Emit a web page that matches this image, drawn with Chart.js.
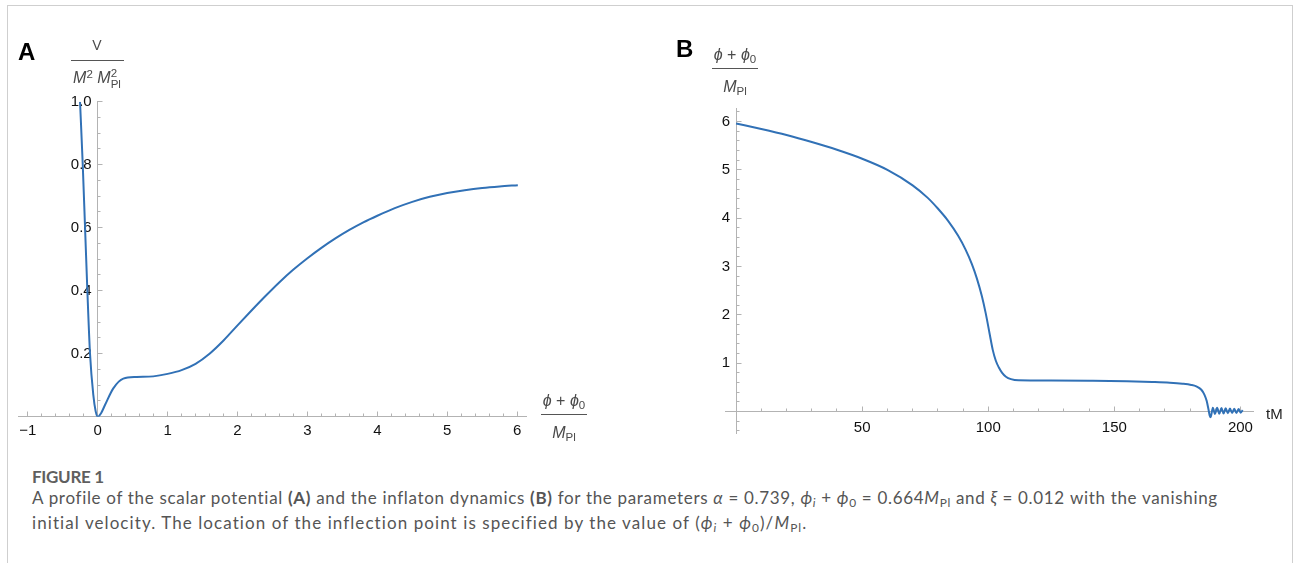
<!DOCTYPE html>
<html>
<head>
<meta charset="utf-8">
<script src="https://cdn.jsdelivr.net/npm/chart.js@4.4.0/dist/chart.umd.min.js"></script>
<style>
  body { margin: 0; background: #fff; width: 1293px; height: 563px; overflow: hidden; position: relative;
         font-family: "Liberation Sans", Arial, sans-serif; }
  .frame { position: absolute; left: 7px; top: 5px; width: 1286px; height: 700px;
           border: 1px solid #cfcfcf; box-sizing: border-box; }
  canvas { position: absolute; top: 0; }
  #potential { left: 0; }
  #dynamics { left: 640px; }
  .t { position: absolute; white-space: nowrap; color: #4a4a4a; font-size: 16px; line-height: 18px; text-align: center; }
  .bar { position: absolute; height: 1px; background: #555; }
  .panel { position: absolute; font-weight: bold; font-size: 24px; line-height: 24px; color: #000; }
  .t sub { font-size: 0.72em; vertical-align: -0.3em; line-height: 0; }
  .t sup { font-size: 0.72em; vertical-align: 0.45em; line-height: 0; }
  .stack { display: inline-block; vertical-align: -0.45em; font-size: 0.72em; line-height: 0.95; text-align: left; }
  .stack span { display: block; }
  .cap { position: absolute; left: 32px; white-space: nowrap; font-family: Lato, "Open Sans", sans-serif; color: #555; }
  .cap sub { font-size: 0.7em; vertical-align: -0.25em; line-height: 0; }
  #fig { top: 467px; font-size: 17px; line-height: 20px; font-weight: bold; color: #5f5f5f; letter-spacing: -0.3px; }
  #line1 { top: 488px; font-size: 17px; line-height: 20px; }
  #line2 { top: 513px; font-size: 17px; line-height: 20px; }
</style>
</head>
<body>
<div class="frame"></div>
<canvas id="potential" width="640" height="460"></canvas>
<canvas id="dynamics" width="653" height="460"></canvas>

<div class="panel" style="left:18px; top:40px;">A</div>
<div class="panel" style="left:676px; top:37px;">B</div>

<!-- axis titles of panel A -->
<div class="t" style="left:67px; width:60px; top:36px; font-size:14px;">V</div>
<div class="bar" style="left:71px; width:53px; top:60px;"></div>
<div class="t" style="left:57px; width:80px; top:68px;"><i>M</i><sup>2</sup> <i>M</i><span class="stack"><span>2</span><span>Pl</span></span></div>
<div class="t" style="left:534px; width:60px; top:392px;"><i>ϕ</i> + <i>ϕ</i><sub>0</sub></div>
<div class="bar" style="left:541px; width:46px; top:414px;"></div>
<div class="t" style="left:534px; width:60px; top:424px;"><i>M</i><sub>Pl</sub></div>

<!-- axis titles of panel B -->
<div class="t" style="left:705px; width:60px; top:46px;"><i>ϕ</i> + <i>ϕ</i><sub>0</sub></div>
<div class="bar" style="left:712px; width:46px; top:68px;"></div>
<div class="t" style="left:705px; width:60px; top:78px;"><i>M</i><sub>Pl</sub></div>
<div class="t" style="left:1266px; top:405px; text-align:left; color:#222; font-size:15px;">tM</div>

<div class="cap" id="fig">FIGURE 1</div>
<div class="cap" id="line1" data-w="1186">A profile of the scalar potential <b>(A)</b> and the inflaton dynamics <b>(B)</b> for the parameters <i>α</i> = 0.739, <i>ϕ<sub>i</sub></i> + <i>ϕ</i><sub>0</sub> = 0.664<i>M</i><sub>Pl</sub> and <i>ξ</i> = 0.012 with the vanishing</div>
<div class="cap" id="line2" data-w="776">initial velocity. The location of the inflection point is specified by the value of (<i>ϕ<sub>i</sub></i> + <i>ϕ</i><sub>0</sub>)/<i>M</i><sub>Pl</sub>.</div>

<script>
  // panel A: scalar potential V/(M^2 Mpl^2) against (phi+phi0)/Mpl
  const potentialX = [-0.253, -0.214, -0.181, -0.148, -0.11, -0.063, -0.03, 0, 0.05, 0.104, 0.223, 0.366,
                      0.557, 0.795, 1.0, 1.2, 1.4, 1.6, 1.8, 2.0, 2.2, 2.4, 2.6, 2.8, 3.0, 3.2, 3.4, 3.6, 3.8, 4.0,
                      4.25, 4.5, 4.75, 5.0, 5.25, 5.5, 5.75, 6.01];
  const potentialV = [1.0, 0.8, 0.6, 0.4, 0.2, 0.069, 0.018, 0, 0.012, 0.037, 0.09, 0.121,
                      0.126, 0.128, 0.136, 0.148, 0.168, 0.2, 0.242, 0.29, 0.337, 0.383, 0.427, 0.467, 0.503, 0.536,
                      0.566, 0.593, 0.617, 0.638, 0.662, 0.682, 0.698, 0.71, 0.719, 0.726, 0.731, 0.735];
  const potentialXTicks = [-1, 0, 1, 2, 3, 4, 5, 6];
  const potentialYTicks = [0.2, 0.4, 0.6, 0.8, 1.0];

  // panel B: inflaton (phi+phi0)/Mpl against tM
  const timeT = [0, 10, 20, 30, 40, 50, 60, 70, 76, 80, 84, 88, 91, 93.5, 95.5, 97.5, 99, 100.5, 101.8, 103, 104.2,
                 105.5, 107, 109, 112, 125, 140, 155, 165, 172, 177, 180.5, 182.5, 184.5, 185.7, 186.6, 187.3, 187.8,
                 188.2, 189.05, 189.9, 190.75, 191.6, 192.45, 193.3, 194.15, 195.0, 195.85, 196.7, 197.55, 198.4, 199.25, 200.1, 200.9];
  const fieldPhi = [5.96, 5.845, 5.72, 5.575, 5.415, 5.23, 5.0, 4.68, 4.42, 4.2, 3.95, 3.64, 3.35, 3.05, 2.75, 2.38, 2.03, 1.62, 1.27, 1.05, 0.91,
                    0.8, 0.72, 0.67, 0.645, 0.64, 0.635, 0.625, 0.61, 0.595, 0.575, 0.55, 0.52, 0.45, 0.35, 0.22, 0.05, -0.08,
                    -0.12, 0.08, -0.05, 0.075, -0.045, 0.07, -0.04, 0.065, -0.035, 0.06, -0.03, 0.055, -0.03, 0.05, -0.025, 0.03];
  const timeTicks = [50, 100, 150, 200];
  const fieldTicks = [1, 2, 3, 4, 5, 6];

  const BLUE = '#3171b6';
  const AXIS = '#b3b3b3';
  const FONT = '"Liberation Sans", Arial, sans-serif';

  // Mathematica-like inward tick marks, drawn on the chart's own scales
  const mmaTicks = {
    id: 'mmaTicks',
    beforeDatasetsDraw(chart, args, o) {
      const { ctx, scales: { x, y } } = chart;
      const align = p => Math.round(p - 0.5) + 0.5;
      const ax = align(x.getPixelForValue(0));
      const ay = align(y.getPixelForValue(0));
      const isMajor = (v, m) => Math.abs(v / m - Math.round(v / m)) < 1e-6;
      ctx.save();
      ctx.strokeStyle = AXIS;
      ctx.lineWidth = 1;
      ctx.beginPath();
      for (let i = 0; ; i++) {
        const v = o.x[0] + i * o.x[2];
        if (v > o.x[1] + 1e-9) break;
        if (Math.abs(v) < 1e-9) continue;
        const px = align(x.getPixelForValue(v));
        const len = isMajor(v, o.x[3]) ? 5 : 3;
        ctx.moveTo(px, ay);
        ctx.lineTo(px, ay - len);
      }
      for (let i = 0; ; i++) {
        const v = o.y[0] + i * o.y[2];
        if (v > o.y[1] + 1e-9) break;
        if (Math.abs(v) < 1e-9) continue;
        const py = align(y.getPixelForValue(v));
        const len = isMajor(v, o.y[3]) ? 5 : 3;
        ctx.moveTo(ax, py);
        ctx.lineTo(ax + len, py);
      }
      ctx.stroke();
      ctx.restore();
    }
  };

  const noSize = s => { s.width = s.isHorizontal() ? s.width : 0; s.height = s.isHorizontal() ? 0 : s.height;
                        s.paddingLeft = s.paddingRight = s.paddingTop = s.paddingBottom = 0; };

  function makeChart(id, xs, ys, cfg) {
    return new Chart(document.getElementById(id), {
      type: 'line',
      data: {
        datasets: [{
          data: xs.map((x, i) => ({ x: x, y: ys[i] })),
          borderColor: BLUE,
          borderWidth: 2,
          pointRadius: 0,
          fill: false,
          cubicInterpolationMode: 'monotone'
        }]
      },
      options: {
        responsive: false,
        animation: false,
        events: [],
        layout: { padding: cfg.pad },
        plugins: { legend: { display: false }, tooltip: { enabled: false }, mmaTicks: cfg.marks },
        scales: {
          x: {
            type: 'linear', bounds: 'data', min: cfg.xr[0], max: cfg.xr[1], position: { y: 0 },
            afterFit: noSize,
            afterBuildTicks: s => { s.ticks = cfg.xTicks.map(v => ({ value: v })); },
            grid: { drawOnChartArea: false, drawTicks: false },
            border: { color: AXIS, width: 1 },
            ticks: { autoSkip: false, maxRotation: 0, padding: cfg.xPad, color: '#111',
                     font: { family: FONT, size: 15 }, callback: cfg.xLabel }
          },
          y: {
            type: 'linear', bounds: 'data', min: cfg.yr[0], max: cfg.yr[1], position: { x: 0 },
            afterFit: noSize,
            afterBuildTicks: s => { s.ticks = cfg.yTicks.map(v => ({ value: v })); },
            grid: { drawOnChartArea: false, drawTicks: false },
            border: { color: AXIS, width: 1 },
            ticks: { autoSkip: false, color: '#111', font: { family: FONT, size: 15 },
                     callback: v => cfg.yLabel(v) + '\u2009\u2009' }
          }
        }
      },
      plugins: [mmaTicks]
    });
  }

  makeChart('potential', potentialX, potentialV, {
    pad: { left: 18.3, right: 113.3, top: 101.7, bottom: 43.3 },
    xr: [-1.136, 6.137], yr: [0, 1.0],
    xTicks: potentialXTicks, yTicks: potentialYTicks, xPad: 5,
    xLabel: v => (v < 0 ? '\u2212' + Math.abs(v) : String(v)),
    yLabel: v => v.toFixed(1),
    marks: { x: [-1, 6, 0.2, 1], y: [0.05, 1.0, 0.05, 0.2] }
  });

  makeChart('dynamics', timeT, fieldPhi, {
    pad: { left: 85, right: 39.7, top: 108, bottom: 27 },
    xr: [-4.4, 205.1], yr: [-0.445, 6.28],
    xTicks: timeTicks, yTicks: fieldTicks, xPad: 7,
    xLabel: v => String(v),
    yLabel: v => String(v),
    marks: { x: [10, 200, 10, 50], y: [-0.4, 6.2, 0.2, 1] }
  });

  // stretch caption lines to the measured widths of the original
  function fitCaption() {
    document.querySelectorAll('.cap[data-w]').forEach(el => {
      el.style.letterSpacing = '0px';
      const w = el.getBoundingClientRect().width;
      const n = el.textContent.length;
      el.style.letterSpacing = ((+el.dataset.w - w) / n) + 'px';
    });
  }
  fitCaption();
  if (document.fonts) document.fonts.ready.then(fitCaption);
</script>
</body>
</html>
